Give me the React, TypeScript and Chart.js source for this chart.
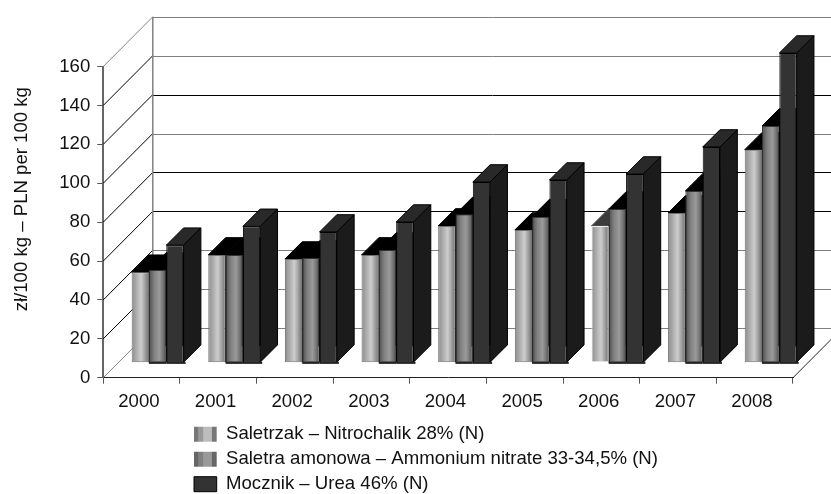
import React, { useEffect, useRef } from "react";
import { Chart, registerables } from "chart.js";

Chart.register(...registerables);

const categories = ["2000", "2001", "2002", "2003", "2004", "2005", "2006", "2007", "2008"];
const saletrzak = [46.5, 55.4, 53.3, 55.4, 70.3, 68.2, 70.3, 77, 109.5];
const saletra = [47.7, 55.4, 53.8, 57.9, 76.3, 75.1, 79, 88.3, 121.7];
const mocznik = [60.4, 70.1, 67.2, 72.3, 92.9, 93.9, 97, 110.9, 159.2];
const seriesLabels = [
  "Saletrzak – Nitrochalik 28% (N)",
  "Saletra amonowa – Ammonium nitrate 33-34,5% (N)",
  "Mocznik – Urea 46% (N)",
];
const axisTitle = "zł/100 kg – PLN per 100 kg";

const FONT = "'Liberation Sans', Arial, sans-serif";
const FONT_SIZE = 18.6;
const DEPTH_X = 49.5;
const DEPTH_Y = 49.7;
const BAR_SHIFT_X = 16;
const BAR_SHIFT_Y = 15;
const BAR_DEPTH = 17.3;
const BAR_FILL = 0.678;
const GREY = "#808080";
const BLACK = "#000000";
const backColors: Record<number, string> = { 160: GREY, 140: GREY, 120: BLACK, 100: GREY, 80: BLACK, 60: BLACK, 40: GREY, 20: GREY, 0: GREY };
const sideColors: Record<number, string> = { 160: GREY, 0: GREY };
const PALE_BAR = 6; // the reference draws this first-series bar with a pale outline and a grey top

const stops: [number, string][][] = [
  [[0, "#8c8c8c"], [0.35, "#b5b5b5"], [0.55, "#cdcdcd"], [0.75, "#a5a5a5"], [1, "#6e6e6e"]],
  [[0, "#4e4e4e"], [0.3, "#808080"], [0.6, "#9a9a9a"], [0.8, "#777777"], [1, "#4a4a4a"]],
  [[0, "#333333"], [1, "#333333"]],
];
const legendStops: [number, string][][] = [
  [[0, "#777777"], [0.19, "#777777"], [0.2, "#999999"], [0.41, "#999999"], [0.42, "#bdbdbd"], [0.77, "#bdbdbd"], [0.78, "#777777"], [1, "#777777"]],
  [[0, "#666666"], [0.19, "#666666"], [0.2, "#808080"], [0.41, "#808080"], [0.42, "#999999"], [0.77, "#999999"], [0.78, "#666666"], [1, "#666666"]],
  [[0, "#333333"], [1, "#333333"]],
];
const borderColors = ["#707070", "#333333", "#000000"];
const sideFill = ["#000000", "#000000", "#1b1b1b"];
const topFill = ["#000000", "#000000", "#292929"];

const poly = (ctx: CanvasRenderingContext2D, pts: number[][], fill: string, stroke: string) => {
  ctx.beginPath();
  pts.forEach((p, i) => (i ? ctx.lineTo(p[0], p[1]) : ctx.moveTo(p[0], p[1])));
  ctx.closePath();
  ctx.fillStyle = fill;
  ctx.fill();
  ctx.strokeStyle = stroke;
  ctx.lineWidth = 1;
  ctx.stroke();
};

const wallsPlugin = {
  id: "walls3d",
  afterLayout(chart: any) {
    const { legend, titleBlock } = chart;
    if (legend) {
      legend.left = 187.6;
      legend.right = 790;
      legend.top = 418.5;
      legend.bottom = 560;
      legend.width = 602.4;
      legend.height = 141.5;
    }
    if (titleBlock) {
      titleBlock.left = 11;
      titleBlock.right = 33;
      titleBlock.top = 0;
      titleBlock.bottom = 398.4;
    }
  },
  beforeDatasetsDraw(chart: any) {
    const { ctx, scales } = chart;
    const y = scales.y;
    const x0 = chart.chartArea.left;
    const x1 = chart.chartArea.right;
    ctx.save();
    ctx.lineWidth = 1;
    y.ticks.forEach((t: any) => {
      const py = y.getPixelForValue(t.value);
      const backY = Math.round(py - DEPTH_Y) + 0.5;
      ctx.strokeStyle = sideColors[t.value] || BLACK;
      ctx.beginPath();
      ctx.moveTo(x0, py);
      ctx.lineTo(x0 + DEPTH_X, py - DEPTH_Y);
      ctx.stroke();
      ctx.strokeStyle = backColors[t.value] || BLACK;
      ctx.beginPath();
      ctx.moveTo(x0 + DEPTH_X, backY);
      ctx.lineTo(x1 + DEPTH_X, backY);
      ctx.stroke();
    });
    ctx.strokeStyle = GREY;
    ctx.lineWidth = 1.5;
    ctx.beginPath();
    ctx.moveTo(x0 + DEPTH_X, y.getPixelForValue(y.max) - DEPTH_Y);
    ctx.lineTo(x0 + DEPTH_X, y.getPixelForValue(0) - DEPTH_Y);
    ctx.stroke();
    ctx.lineWidth = 1;
    ctx.strokeStyle = "#222222";
    ctx.beginPath();
    ctx.moveTo(x1, y.getPixelForValue(0));
    ctx.lineTo(x1 + DEPTH_X, y.getPixelForValue(0) - DEPTH_Y);
    ctx.stroke();

    // Side and top faces of every bar, left to right, under all the front faces.
    ctx.translate(BAR_SHIFT_X, -BAR_SHIFT_Y);
    [0, 1, 2].forEach((i) => {
      chart.getDatasetMeta(i).data.forEach((bar: any, k: number) => {
        const l = bar.x - bar.width / 2;
        const r = bar.x + bar.width / 2;
        const d = BAR_DEPTH;
        const pale = i === 0 && k === PALE_BAR;
        poly(ctx, [[l, bar.y], [l + d, bar.y - d], [r + d, bar.y - d], [r, bar.y]], pale ? "#3c3c3c" : topFill[i], pale ? "#555555" : BLACK);
        poly(ctx, [[r, bar.y], [r + d, bar.y - d], [r + d, bar.base - d], [r, bar.base]], sideFill[i], BLACK);
      });
    });
    ctx.restore();
  },
  beforeDatasetDraw(chart: any) {
    chart.ctx.save();
    chart.ctx.translate(BAR_SHIFT_X, -BAR_SHIFT_Y);
  },
  afterDatasetDraw(chart: any, args: any) {
    const { ctx } = chart;
    const i = args.index;
    if (i > 0) {
      ctx.fillStyle = "#262626";
      args.meta.data.forEach((bar: any) => {
        const l = bar.x - bar.width / 2;
        ctx.fillRect(l, bar.base - 0.5, bar.width + (i === 2 ? 2 : 0), 2.2);
      });
    }
    ctx.restore();
  },
};

const barFill = (i: number) => (c: any) => {
  const { chart, dataIndex } = c;
  if (!chart.chartArea || dataIndex === undefined) return stops[i][0][1];
  const step = chart.scales.x.getPixelForValue(1) - chart.scales.x.getPixelForValue(0);
  const w = (step * BAR_FILL) / 3;
  const cx = chart.scales.x.getPixelForValue(dataIndex);
  const l = cx + (i - 1.5) * w;
  const g = chart.ctx.createLinearGradient(l, 0, l + w, 0);
  stops[i].forEach(([o, col]) => g.addColorStop(o, col));
  return g;
};

export default function App() {
  const ref = useRef<HTMLCanvasElement | null>(null);
  useEffect(() => {
    const canvas = ref.current;
    if (!canvas) return;
    const values = [saletrzak, saletra, mocznik];
    const chart = new Chart(canvas, {
      type: "bar",
      data: {
        labels: categories,
        datasets: values.map((v, i) => ({
          label: seriesLabels[i],
          data: v,
          clip: false as any,
          backgroundColor: barFill(i),
          borderColor: (c: any) => (i === 0 && c.dataIndex === PALE_BAR ? "#eeeeee" : borderColors[i]),
          borderWidth: 1,
          borderSkipped: false,
          barPercentage: 1,
          categoryPercentage: BAR_FILL,
        })),
      },
      options: {
        animation: false,
        responsive: false,
        devicePixelRatio: 1,
        layout: { padding: { left: 0, right: 38, top: 66.5, bottom: 86.3 } },
        plugins: {
          tooltip: { enabled: false },
          title: {
            display: true,
            position: "left",
            text: axisTitle,
            color: "#111111",
            padding: 0,
            font: { family: FONT, size: FONT_SIZE, weight: "normal" },
          },
          legend: {
            display: true,
            position: "chartArea" as any,
            align: "start",
            labels: {
              boxWidth: 22.7,
              boxHeight: 15,
              padding: 6.4,
              color: "#111111",
              font: { family: FONT, size: FONT_SIZE },
              generateLabels: (ch: any) =>
                ch.data.datasets.map((d: any, i: number) => {
                  const g = ch.ctx.createLinearGradient(194, 0, 216.7, 0);
                  legendStops[i].forEach(([o, col]) => g.addColorStop(o, col));
                  return {
                    text: d.label,
                    fillStyle: g,
                    strokeStyle: i === 2 ? "#000000" : "#777777",
                    lineWidth: i === 2 ? 1 : 0,
                    hidden: false,
                    datasetIndex: i,
                    fontColor: "#111111",
                  };
                }),
            },
          },
        },
        scales: {
          x: {
            type: "category",
            offset: true,
            afterFit: (s: any) => {
              s.height = 30;
            },
            border: { color: "#222222", width: 1 },
            grid: { drawOnChartArea: false, drawTicks: true, tickLength: 6, color: "#555555", offset: true },
            ticks: { color: "#111111", padding: 7, labelOffset: -2.7, maxRotation: 0, autoSkip: false, font: { family: FONT, size: FONT_SIZE } },
          },
          y: {
            min: 0,
            max: 160,
            afterFit: (s: any) => {
              s.width = 103.3 - FONT_SIZE * 1.2;
            },
            border: { color: "#666666", width: 2 },
            grid: { drawOnChartArea: false, drawTicks: true, tickLength: 6, color: "#555555" },
            ticks: { stepSize: 20, color: "#111111", padding: 7, font: { family: FONT, size: FONT_SIZE } },
          },
        },
      } as any,
      plugins: [wallsPlugin as any],
    });
    return () => chart.destroy();
  }, []);
  return (
    <div style={{ position: "absolute", left: 0, top: 0, width: 831, height: 494, background: "#ffffff" }}>
      <canvas ref={ref} width={831} height={494} style={{ display: "block" }} />
    </div>
  );
}
